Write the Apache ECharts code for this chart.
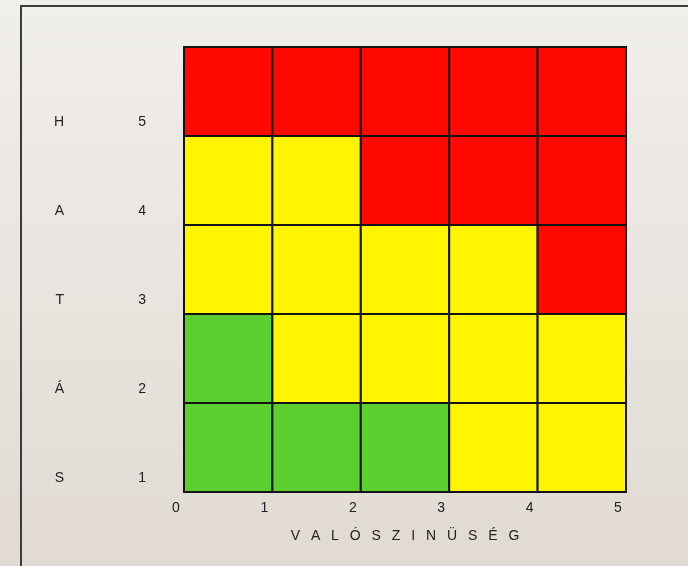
<!DOCTYPE html>
<html>
<head>
<meta charset="utf-8">
<script src="https://cdn.jsdelivr.net/npm/echarts@6/dist/echarts.min.js"></script>
<style>
    html, body { margin: 0; padding: 0; }
    #chart { width: 688px; height: 566px; }
</style>
</head>
<body>
<div id="chart"></div>
<script>
// sorok alulról felfelé (1 -> 5)
const rowLabels = ['1', '2', '3', '4', '5']
const rowLetters = ['S', 'Á', 'T', 'A', 'H']
const xTitle = 'VALÓSZINÜSÉG'
const levels = ['G', 'Y', 'R']
const matrix = [
    ['G', 'G', 'G', 'Y', 'Y'],
    ['G', 'Y', 'Y', 'Y', 'Y'],
    ['Y', 'Y', 'Y', 'Y', 'R'],
    ['Y', 'Y', 'R', 'R', 'R'],
    ['R', 'R', 'R', 'R', 'R']
]
const levelColors = { G: '#5ccf2e', Y: '#fff500', R: '#fe0800' }

const cells = []
matrix.forEach((row, y) => {
    row.forEach((lvl, x) => {
        cells.push([x, y, levels.indexOf(lvl)])
    })
})

const labelFont = { fontFamily: 'Liberation Sans, Arial, sans-serif', fontSize: 14, color: '#222' }

const chart = echarts.init(document.getElementById('chart'))
chart.setOption({
    animation: false,
    backgroundColor: {
        type: 'linear', x: 0, y: 0, x2: 0, y2: 1,
        colorStops: [
            { offset: 0, color: '#f1efec' },
            { offset: 1, color: '#e0dad2' }
        ]
    },
    graphic: [{
        type: 'rect',
        shape: { x: 21, y: 6, width: 700, height: 600 },
        style: { fill: 'none', stroke: '#3c3c3c', lineWidth: 2 },
        silent: true
    }],
    grid: { left: 184, top: 47, width: 442, height: 445, outerBoundsMode: 'none', containLabel: false },
    xAxis: {
        type: 'value',
        min: 0,
        max: rowLabels.length,
        interval: 1,
        splitLine: { show: false },
        axisLine: { show: false },
        axisTick: { show: false },
        axisLabel: Object.assign({ margin: 9, padding: [0, 16, 0, 0] }, labelFont),
        name: xTitle.split('').join(' \u2002'),
        nameLocation: 'middle',
        nameGap: 37,
        nameTextStyle: Object.assign({}, labelFont)
    },
    yAxis: [
        {
            type: 'value',
            position: 'left',
            min: 0,
            max: rowLabels.length,
            interval: 1,
            show: false
        },
        {
            type: 'category',
            position: 'left',
            data: rowLabels,
            axisLine: { show: false },
            axisTick: { show: false },
            splitLine: { show: false },
            axisLabel: Object.assign({ margin: 38, verticalAlign: 'top', lineHeight: 62 }, labelFont)
        },
        {
            type: 'category',
            position: 'left',
            data: rowLetters,
            axisLine: { show: false },
            axisTick: { show: false },
            splitLine: { show: false },
            axisLabel: Object.assign({ margin: 120, verticalAlign: 'top', lineHeight: 62 }, labelFont)
        }
    ],
    series: [{
        type: 'custom',
        yAxisIndex: 0,
        data: cells,
        renderItem: (params, api) => {
            const x = api.value(0)
            const y = api.value(1)
            const lvl = levels[api.value(2)]
            const p0 = api.coord([x, y + 1])
            const p1 = api.coord([x + 1, y])
            return {
                type: 'rect',
                shape: { x: p0[0], y: p0[1], width: p1[0] - p0[0], height: p1[1] - p0[1] },
                style: { fill: levelColors[lvl], stroke: '#141414', lineWidth: 2 }
            }
        }
    }]
})
</script>
</body>
</html>
